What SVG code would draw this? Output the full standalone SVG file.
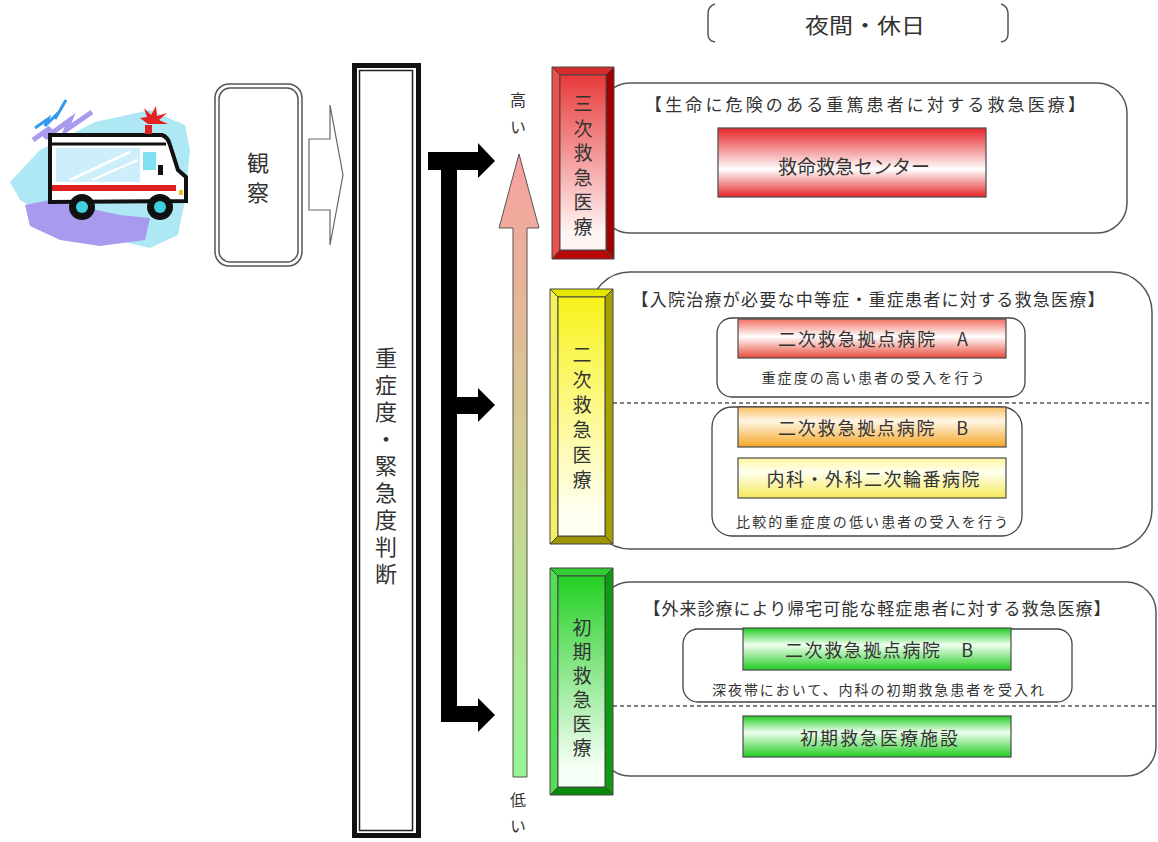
<svg xmlns="http://www.w3.org/2000/svg" width="1158" height="842" viewBox="0 0 1158 842">
  <style>
    text { font-family: "Noto Sans CJK JP", "Noto Sans", sans-serif; fill: #333; dominant-baseline: central; text-anchor: middle; }
    .hdr { font-size: 17px; }
    .lbl { font-size: 18px; }
    .note { font-size: 14px; }
    .vert { writing-mode: vertical-rl; }
    .vt { font-size: 19px; }
    .panel { fill: #fff; stroke: #555; stroke-width: 1.5; }
    .sub { fill: #fff; stroke: #444; stroke-width: 1.3; }
    .gbox { stroke: #4a4a4a; stroke-width: 1.2; }
    .dash { stroke: #555; stroke-width: 1.3; stroke-dasharray: 4 3; fill: none; }
    .edge { stroke: #444; stroke-width: 1; }
  </style>
  <defs>
    <linearGradient id="gRedBox" x1="0" y1="0" x2="0" y2="1">
      <stop offset="0" stop-color="#e5262a"/>
      <stop offset="0.6" stop-color="#ffffff"/>
      <stop offset="1" stop-color="#e5262a"/>
    </linearGradient>
    <linearGradient id="gSalmon" x1="0" y1="0" x2="0" y2="1">
      <stop offset="0" stop-color="#f07060"/>
      <stop offset="0.45" stop-color="#ffffff"/>
      <stop offset="1" stop-color="#e84a3a"/>
    </linearGradient>
    <linearGradient id="gOrange" x1="0" y1="0" x2="0" y2="1">
      <stop offset="0" stop-color="#fbc060"/>
      <stop offset="0.35" stop-color="#fff6e8"/>
      <stop offset="1" stop-color="#f5a623"/>
    </linearGradient>
    <linearGradient id="gYellow" x1="0" y1="0" x2="0" y2="1">
      <stop offset="0" stop-color="#fff7a0"/>
      <stop offset="0.35" stop-color="#fffff0"/>
      <stop offset="1" stop-color="#f6e95a"/>
    </linearGradient>
    <linearGradient id="gGreen" x1="0" y1="0" x2="0" y2="1">
      <stop offset="0" stop-color="#22cc22"/>
      <stop offset="0.4" stop-color="#f0fff0"/>
      <stop offset="1" stop-color="#22cc22"/>
    </linearGradient>
    <linearGradient id="fRed" x1="0" y1="0" x2="0" y2="1">
      <stop offset="0" stop-color="#e83a3a"/>
      <stop offset="0.9" stop-color="#fff4f4"/>
    </linearGradient>
    <linearGradient id="fYellow" x1="0" y1="0" x2="0" y2="1">
      <stop offset="0" stop-color="#f7f21a"/>
      <stop offset="0.9" stop-color="#fffff2"/>
    </linearGradient>
    <linearGradient id="fGreen" x1="0" y1="0" x2="0" y2="1">
      <stop offset="0" stop-color="#22d022"/>
      <stop offset="0.9" stop-color="#f5fff5"/>
    </linearGradient>
    <linearGradient id="gScale" gradientUnits="userSpaceOnUse" x1="0" y1="154" x2="0" y2="777">
      <stop offset="0" stop-color="#f8a0a0"/>
      <stop offset="0.5" stop-color="#d0d090"/>
      <stop offset="1" stop-color="#96f596"/>
    </linearGradient>
  </defs>

  <!-- header: night / holiday -->
  <g id="header">
    <path d="M715,4 Q708,6 708,14 L708,34 Q708,41 715,42" fill="none" stroke="#555" stroke-width="1.5"/>
    <path d="M1001,4 Q1008,6 1008,14 L1008,34 Q1008,41 1001,42" fill="none" stroke="#555" stroke-width="1.5"/>
    <text x="865" y="24" style="font-size:21px" textLength="120" lengthAdjust="spacingAndGlyphs">夜間・休日</text>
  </g>

  <!-- ambulance illustration -->
  <g id="ambulance">
    <polygon points="10,182 40,150 60,140 95,122 150,110 185,125 190,150 185,200 178,235 150,248 115,240 80,225 45,215 20,200" fill="#aee8f5"/>
    <polygon points="25,205 50,200 120,215 150,218 145,240 100,246 60,240 30,226" fill="#a99af0"/>
    <polyline points="33,140 50,128 45,138 70,120 66,130 92,112" fill="none" stroke="#a99af0" stroke-width="5"/>
    <polyline points="35,128 48,119 45,126 58,113 55,119 66,100" fill="none" stroke="#3399ee" stroke-width="3"/>
    <path d="M50,135 L162,135 Q168,137 170,145 L178,170 L186,177 L186,201 L50,202 Z" fill="#fff" stroke="#111" stroke-width="4"/>
    <line x1="50" y1="144" x2="166" y2="144" stroke="#111" stroke-width="3"/>
    <rect x="56" y="148" width="84" height="34" fill="#cdeefa"/>
    <line x1="70" y1="180" x2="130" y2="152" stroke="#fff" stroke-width="3"/>
    <line x1="92" y1="180" x2="138" y2="160" stroke="#fff" stroke-width="2"/>
    <rect x="143" y="152" width="13" height="18" fill="#7fe0f0"/>
    <rect x="158" y="165" width="5" height="10" fill="#111"/>
    <rect x="52" y="185" width="124" height="6" fill="#e02020"/>
    <rect x="179" y="190" width="4" height="5" fill="#f0c020"/>
    <circle cx="82" cy="207" r="13" fill="#111"/>
    <circle cx="82" cy="207" r="6" fill="#40d0e0"/>
    <circle cx="160" cy="207" r="13" fill="#111"/>
    <circle cx="160" cy="207" r="6" fill="#40d0e0"/>
    <rect x="145" y="125" width="7" height="9" fill="#e02020"/>
    <polygon points="148,124 140,118 147,117 144,108 151,115 156,106 157,116 167,113 159,120 168,124" fill="#e52020"/>
  </g>

  <!-- observation -->
  <g id="observe">
    <rect x="215" y="84" width="87" height="182" rx="14" fill="#fff" stroke="#555" stroke-width="1.5"/>
    <rect x="219" y="88" width="79" height="174" rx="11" fill="none" stroke="#555" stroke-width="1.5"/>
    <text class="vert" x="258" y="182" style="font-size:22px; letter-spacing:8px">観察</text>
  </g>

  <!-- triage column -->
  <g id="triage">
    <rect x="354.5" y="65.5" width="64" height="770" fill="#fff" stroke="#111" stroke-width="5"/>
    <rect x="359.5" y="70.5" width="53" height="760" fill="none" stroke="#222" stroke-width="1.5"/>
    <text class="vert" x="386" y="468" style="font-size:22px; letter-spacing:5px">重症度・緊急度判断</text>
  </g>

  <!-- severity scale -->
  <g id="scale">
    <path d="M519,154 L539,228 L527,228 L527,777 L513,777 L513,228 L499,228 Z" fill="url(#gScale)" stroke="#555" stroke-width="1"/>
    <text class="vert" x="518" y="119" style="font-size:16px; letter-spacing:11px">高い</text>
    <text class="vert" x="518" y="818" style="font-size:16px; letter-spacing:10px">低い</text>
  </g>

  <!-- connectors -->
  <g id="connectors">
    <polygon points="309,139 330,139 330,105 343,175 330,245 330,210 309,210" fill="#fff" stroke="#666" stroke-width="1.2"/>
    <path d="M428,152 L478,152 L478,143 L495,161 L478,178 L478,170 L457,170 L457,397 L478,397 L478,388 L495,405 L478,422 L478,414 L457,414 L457,706 L478,706 L478,698 L495,715 L478,732 L478,722 L441,722 L441,170 L428,170 Z" fill="#000"/>
  </g>

  <!-- tertiary care -->
  <g id="tertiary">
    <rect class="panel" x="600" y="83" width="527" height="150" rx="30"/>
    <text class="hdr" x="865" y="103" textLength="440" lengthAdjust="spacing">【生命に危険のある重篤患者に対する救急医療】</text>
    <rect class="gbox" x="718" y="128" width="268" height="69" fill="url(#gRedBox)"/>
    <text x="854" y="165" style="font-size:19px" textLength="152" lengthAdjust="spacing">救命救急センター</text>
    <polygon points="552,67 614,67 606,75 560,75" fill="#d82c2c" class="edge"/>
    <polygon points="552,67 560,75 560,250 552,259" fill="#ee4d4d" class="edge"/>
    <polygon points="614,67 614,259 606,250 606,75" fill="#a00000" class="edge"/>
    <polygon points="552,259 560,250 606,250 614,259" fill="#b80808" class="edge"/>
    <rect x="560" y="75" width="46" height="175" fill="url(#fRed)" class="edge"/>
    <text class="vt vert" x="583" y="168" style="letter-spacing:5.6px">三次救急医療</text>
  </g>

  <!-- secondary care -->
  <g id="secondary">
    <rect class="panel" x="590" y="272" width="562" height="277" rx="40"/>
    <text class="hdr" x="868" y="298" textLength="473" lengthAdjust="spacing">【入院治療が必要な中等症・重症患者に対する救急医療】</text>
    <rect class="sub" x="717" y="318" width="308" height="79" rx="15"/>
    <rect class="gbox" x="738" y="319" width="268" height="39" fill="url(#gSalmon)"/>
    <text class="lbl" x="873" y="338" textLength="190" lengthAdjust="spacing">二次救急拠点病院　A</text>
    <text class="note" x="873" y="377" textLength="223" lengthAdjust="spacing">重症度の高い患者の受入を行う</text>
    <line class="dash" x1="613" y1="403" x2="1152" y2="403"/>
    <rect class="sub" x="712" y="407" width="310" height="129" rx="20"/>
    <rect class="gbox" x="738" y="407" width="268" height="40" fill="url(#gOrange)"/>
    <text class="lbl" x="873" y="427" textLength="190" lengthAdjust="spacing">二次救急拠点病院　B</text>
    <rect class="gbox" x="738" y="458" width="268" height="40" fill="url(#gYellow)"/>
    <text class="lbl" x="873" y="478" textLength="213" lengthAdjust="spacing">内科・外科二次輪番病院</text>
    <text class="note" x="872" y="521" textLength="272" lengthAdjust="spacing">比較的重症度の低い患者の受入を行う</text>
    <polygon points="550,289 613,289 605,297 558,297" fill="#e6e600" class="edge"/>
    <polygon points="550,289 558,297 558,536 550,544" fill="#f4f060" class="edge"/>
    <polygon points="613,289 613,544 605,536 605,297" fill="#a8a000" class="edge"/>
    <polygon points="550,544 558,536 605,536 613,544" fill="#9c9400" class="edge"/>
    <rect x="558" y="297" width="47" height="239" fill="url(#fYellow)" class="edge"/>
    <text class="vt vert" x="582" y="420" style="letter-spacing:6px">二次救急医療</text>
  </g>

  <!-- primary care -->
  <g id="primary">
    <rect class="panel" x="600" y="582" width="556" height="194" rx="30"/>
    <text class="hdr" x="877" y="607" textLength="467" lengthAdjust="spacing">【外来診療により帰宅可能な軽症患者に対する救急医療】</text>
    <rect class="sub" x="683" y="629" width="389" height="73" rx="15"/>
    <rect class="gbox" x="743" y="628" width="268" height="42" fill="url(#gGreen)"/>
    <text class="lbl" x="879" y="649" textLength="188" lengthAdjust="spacing">二次救急拠点病院　B</text>
    <text class="note" x="878" y="689" textLength="332" lengthAdjust="spacing">深夜帯において、内科の初期救急患者を受入れ</text>
    <line class="dash" x1="613" y1="706" x2="1156" y2="706"/>
    <rect class="gbox" x="743" y="716" width="268" height="41" fill="url(#gGreen)"/>
    <text class="lbl" x="879" y="737" textLength="158" lengthAdjust="spacing">初期救急医療施設</text>
    <polygon points="550,568 613,568 605,576 558,576" fill="#33cc33" class="edge"/>
    <polygon points="550,568 558,576 558,787 550,795" fill="#55dd55" class="edge"/>
    <polygon points="613,568 613,795 605,787 605,576" fill="#119911" class="edge"/>
    <polygon points="550,795 558,787 605,787 613,795" fill="#0a8a0a" class="edge"/>
    <rect x="558" y="576" width="47" height="211" fill="url(#fGreen)" class="edge"/>
    <text class="vt vert" x="582" y="690" style="letter-spacing:5px">初期救急医療</text>
  </g>
</svg>
